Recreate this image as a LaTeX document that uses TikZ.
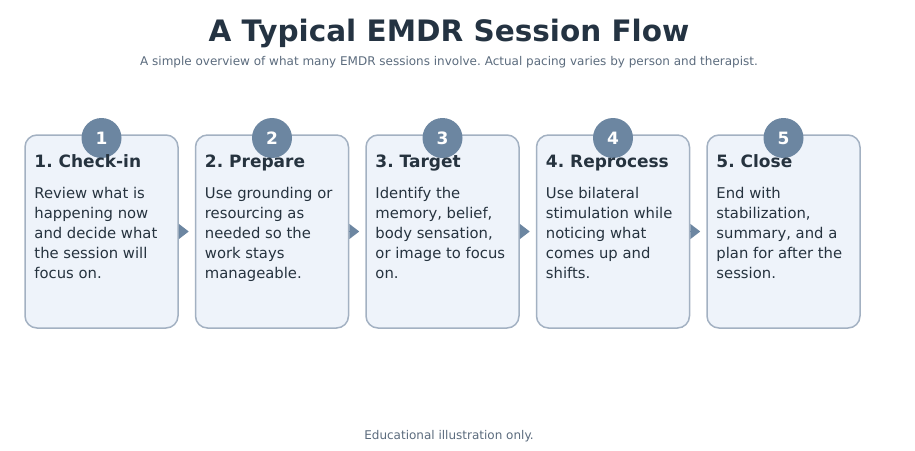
\documentclass[tikz,border=0pt]{standalone}
\usepackage{fontspec}
\setmainfont{DejaVu Sans}
\usetikzlibrary{arrows.meta}
\definecolor{titlecol}{HTML}{243342}
\definecolor{subcol}{HTML}{5B6B7D}
\definecolor{boxfill}{HTML}{EEF3FA}
\definecolor{boxline}{HTML}{A3B1C2}
\definecolor{badge}{HTML}{6C86A1}
\definecolor{textcol}{HTML}{26333F}
\tikzset{
  stepbox/.style={draw=boxline, fill=boxfill, line width=1.5pt, rounded corners=12pt,
    minimum width=153pt, minimum height=193pt, inner sep=0pt},
  badgecirc/.style={circle, fill=badge, minimum size=40pt, inner sep=0pt,
    text=white, font=\fontsize{17}{19}\selectfont\bfseries},
  headtxt/.style={anchor=base west, text=textcol, inner sep=0pt,
    font=\fontsize{17}{19}\selectfont\bfseries},
  bodytxt/.style={anchor=north west, text=textcol, inner sep=0pt, align=left,
    font=\fontsize{14.8}{20}\selectfont},
  flowarrow/.style={draw=badge, line width=1.5pt, shorten >=6pt,
    -{Triangle[length=10pt,width=15pt]}}
}
\begin{document}
\frenchspacing
\begin{tikzpicture}[x=1pt,y=-1pt]
\useasboundingbox (0,0) rectangle (915,450);
\node[text=titlecol, font=\fontsize{29.5}{34}\selectfont\bfseries] (title) at (449,33) {A Typical EMDR Session Flow};
\node[text=subcol, font=\fontsize{12}{14}\selectfont] (sub) at (449,62) {A simple overview of what many EMDR sessions involve. Actual pacing varies by person and therapist.};
\node[text=subcol, font=\fontsize{12}{14}\selectfont] (foot) at (449,436) {Educational illustration only.};

\foreach \i/\x/\head/\body in {
 1/101.5/{1. Check-in}/{Review what is\\happening now\\and decide what\\the session will\\focus on.},
 2/272/{2. Prepare}/{Use grounding or\\resourcing as\\needed so the\\work stays\\manageable.},
 3/442.5/{3. Target}/{Identify the\\memory, belief,\\body sensation,\\or image to focus\\on.},
 4/613/{4. Reprocess}/{Use bilateral\\stimulation while\\noticing what\\comes up and\\shifts.},
 5/783.5/{5. Close}/{End with\\stabilization,\\summary, and a\\plan for after the\\session.}}{
  \node[stepbox] (b\i) at (\x,231.5) {};
  \node[badgecirc] (c\i) at (\x,138) {\i};
  \node[headtxt] (h\i) at ([xshift=10pt,yshift=-33pt]b\i.north west) {\head};
  \node[bodytxt] (t\i) at ([xshift=10pt,yshift=-53pt]b\i.north west) {\body};
}
\foreach \a/\b in {1/2,2/3,3/4,4/5}{
  \draw[flowarrow] (b\a.east) -- (b\b.west);
}
\end{tikzpicture}
\end{document}
